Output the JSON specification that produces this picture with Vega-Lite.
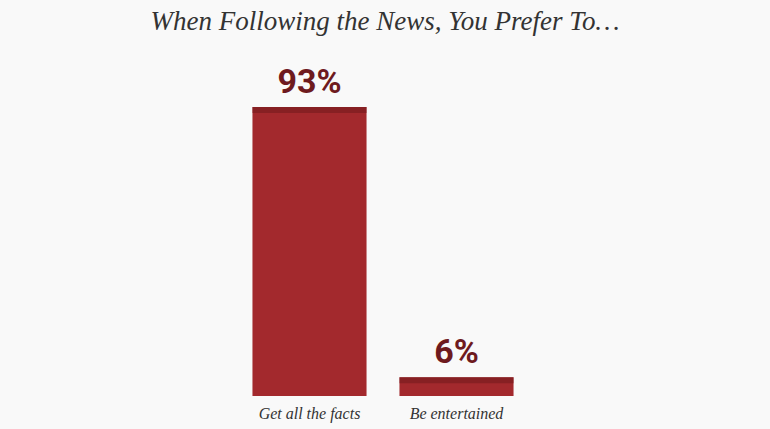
{
  "$schema": "https://vega.github.io/schema/vega-lite/v6.json",
  "width": 770,
  "height": 346,
  "autosize": "none",
  "padding": {"left": 0, "right": 0, "top": 50, "bottom": 33},
  "background": "#f9f9f9",
  "config": {"view": {"stroke": null}},
  "title": {
    "text": "When Following the News, You Prefer To…",
    "font": "Liberation Serif",
    "fontStyle": "italic",
    "fontWeight": "normal",
    "fontSize": 27,
    "color": "#333333",
    "anchor": "middle",
    "offset": 14
  },
  "data": {
    "values": [
      {"choice": "Get all the facts", "pct": 93, "label": "93%"},
      {"choice": "Be entertained", "pct": 6, "label": "6%"}
    ]
  },
  "layer": [
    {
      "mark": {"type": "bar", "color": "#a3292d"},
      "encoding": {
        "x": {
          "field": "choice",
          "type": "nominal",
          "sort": null,
          "scale": {"range": [236, 530], "paddingInner": 0.224, "paddingOuter": 0.112},
          "axis": {
            "title": null,
            "domain": false,
            "ticks": false,
            "labelAngle": 0,
            "labelFont": "Liberation Serif",
            "labelFontStyle": "italic",
            "labelFontSize": 16,
            "labelColor": "#333333",
            "labelPadding": 9
          }
        },
        "y": {
          "field": "pct",
          "type": "quantitative",
          "scale": {"domain": [0, 111.3], "nice": false},
          "axis": null
        }
      }
    },
    {
      "mark": {"type": "tick", "color": "#7a1c20", "thickness": 6, "size": 114, "yOffset": 3},
      "encoding": {
        "x": {"field": "choice", "type": "nominal", "sort": null},
        "y": {"field": "pct", "type": "quantitative"}
      }
    },
    {
      "mark": {
        "type": "text",
        "baseline": "bottom",
        "dy": -7,
        "font": "Roboto",
        "fontWeight": "bold",
        "fontSize": 34,
        "color": "#6e1a1e"
      },
      "encoding": {
        "x": {"field": "choice", "type": "nominal", "sort": null},
        "y": {"field": "pct", "type": "quantitative"},
        "text": {"field": "label"}
      }
    }
  ]
}
